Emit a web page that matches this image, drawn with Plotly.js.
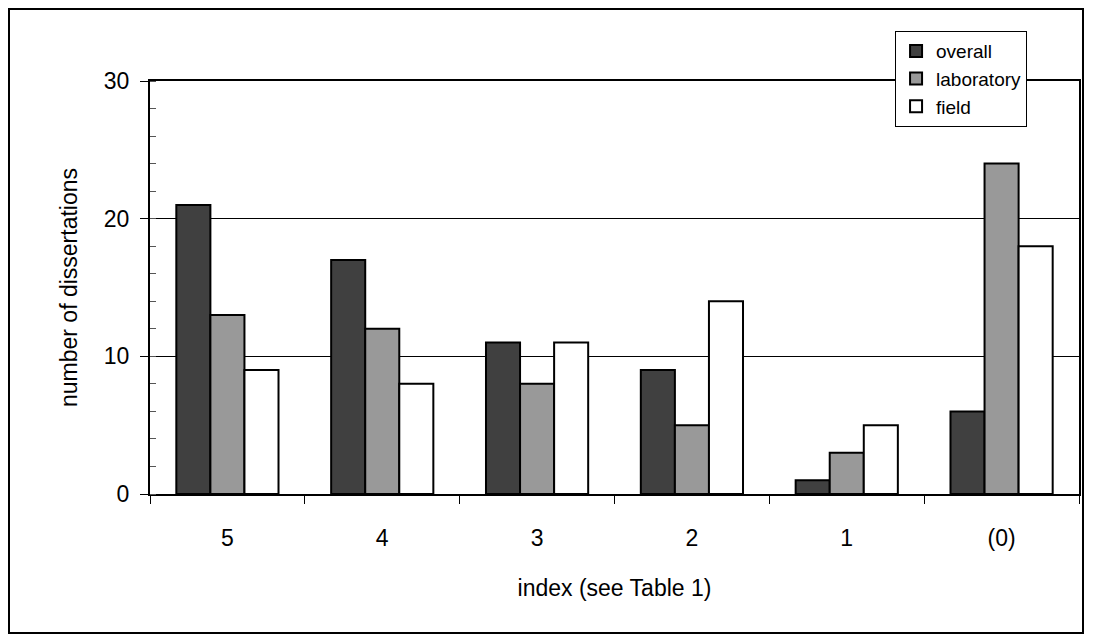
<!DOCTYPE html><html><head><script src="https://cdn.plot.ly/plotly-3.0.1.min.js"></script>
<style>body{margin:0;background:#fff}#box{position:absolute;left:8px;top:8px;width:1076px;height:626px;border:2px solid #000;box-sizing:border-box}#c{position:absolute;left:0;top:0;width:1094px;height:642px}</style></head><body>
<div id="c"></div><div id="box"></div>
<script>
const categories=["5","4","3","2","1","(0)"];
const overall=[21,17,11,9,1,6];
const laboratory=[13,12,8,5,3,24];
const field=[9,8,11,14,5,18];
const mk=c=>({color:c,line:{color:'#000',width:2}});
const data=[
{type:'bar',name:'overall',x:categories,y:overall,marker:mk('#404040')},
{type:'bar',name:'laboratory',x:categories,y:laboratory,marker:mk('#999999')},
{type:'bar',name:'field',x:categories,y:field,marker:mk('#ffffff')}];
const layout={width:1094,height:642,margin:{l:150,r:15,t:81,b:148},paper_bgcolor:'#fff',plot_bgcolor:'#fff',
font:{family:'Liberation Sans, Arial',size:23,color:'#000'},bargap:0.34,bargroupgap:0,showlegend:true,
legend:{x:0.802,y:1.121,xanchor:'left',yanchor:'top',bordercolor:'#000',borderwidth:1,bgcolor:'#fff',font:{size:19},tracegroupgap:0,itemwidth:30},
xaxis:{type:'category',showline:true,linecolor:'#000',linewidth:2,mirror:true,ticks:'outside',tickson:'boundaries',ticklen:8,tickcolor:'#000',tickfont:{size:23},ticklabelstandoff:22,
 title:{text:'index (see Table 1)',font:{size:23},standoff:30}},
yaxis:{range:[0,30],dtick:10,showline:true,linecolor:'#000',linewidth:2,mirror:true,ticks:'outside',ticklen:8,tickcolor:'#000',gridcolor:'#000',gridwidth:1,zeroline:false,
 tickfont:{size:23},ticklabelstandoff:6,title:{text:'number of dissertations',font:{size:23},standoff:20},
 minor:{dtick:2,ticks:'inside',ticklen:6,tickcolor:'#555',showgrid:false}}};
Plotly.newPlot('c',data,layout,{displayModeBar:false});
</script></body></html>
